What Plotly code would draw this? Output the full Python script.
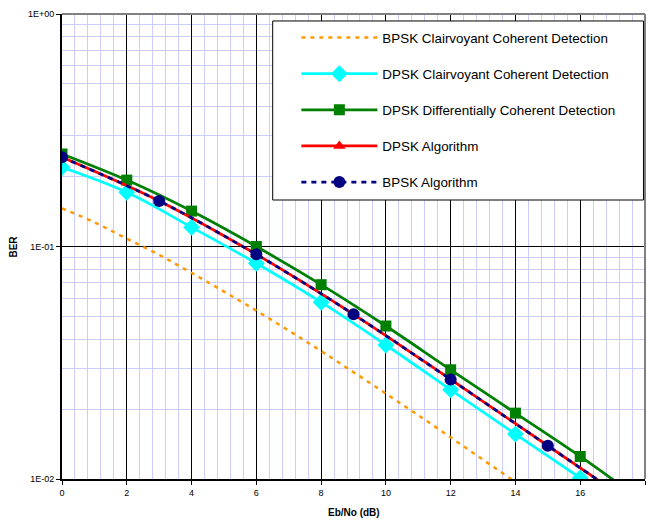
import plotly.graph_objects as go

# ---- data ----
snr_1db = [0, 1, 2, 3, 4, 5, 6, 7, 8, 9, 10, 11, 12, 13, 14, 15, 16, 17, 18]
bpsk_clair = [0.146, 0.127, 0.108, 0.092, 0.077, 0.064, 0.053, 0.0435, 0.0355, 0.0288,
              0.0233, 0.0188, 0.0151, 0.0121, 0.0097, 0.0077, 0.0062, 0.0049, 0.0039]

snr_2db = [0, 2, 4, 6, 8, 10, 12, 14, 16, 18]
dpsk_clair = [0.219, 0.171, 0.121, 0.0847, 0.0576, 0.0377, 0.0242, 0.0156, 0.0101, 0.0065]
dpsk_diff = [0.25, 0.193, 0.142, 0.1, 0.0685, 0.0455, 0.0295, 0.0192, 0.0125, 0.0079]

snr_3db = [0, 3, 6, 9, 12, 15, 18]
dpsk_alg = [0.242, 0.157, 0.0925, 0.0511, 0.0268, 0.0139, 0.0072]
bpsk_alg = [0.242, 0.157, 0.0925, 0.0511, 0.0268, 0.0139, 0.0072]

names = ["BPSK Clairvoyant Coherent Detection",
         "DPSK Clairvoyant Coherent Detection",
         "DPSK Differentially Coherent Detection",
         "DPSK Algorithm",
         "BPSK Algorithm"]

y_tickvals = [0.01, 0.1, 1]
y_ticktext = ["1E-02", "1E-01", "1E+00"]

FONT = "Arial, Liberation Sans, sans-serif"

fig = go.Figure()
fig.add_trace(go.Scatter(x=snr_1db, y=bpsk_clair, name=names[0], mode="lines",
                         legendgroup="g0",
                         line=dict(color="#FF9900", width=2.5, dash="4px,5px", shape="spline")))
fig.add_trace(go.Scatter(x=snr_2db, y=dpsk_clair, name=names[1], mode="lines+markers",
                         legendgroup="g1",
                         line=dict(color="#00FFFF", width=2.75, shape="spline"),
                         marker=dict(symbol="diamond", size=13, color="#00FFFF")))
fig.add_trace(go.Scatter(x=snr_2db, y=dpsk_diff, name=names[2], mode="lines+markers",
                         legendgroup="g2",
                         line=dict(color="#008000", width=2.75, shape="spline"),
                         marker=dict(symbol="square", size=11, color="#008000")))
fig.add_trace(go.Scatter(x=snr_3db, y=dpsk_alg, name=names[3], mode="lines+markers",
                         legendgroup="g3",
                         line=dict(color="#FF0000", width=2.75, shape="spline"),
                         marker=dict(symbol="triangle-up", size=11, color="#FF0000")))
fig.add_trace(go.Scatter(x=snr_3db, y=bpsk_alg, name=names[4], mode="lines+markers",
                         legendgroup="g4",
                         line=dict(color="#000080", width=2.75, dash="5px,5px", shape="spline"),
                         marker=dict(symbol="circle", size=12, color="#000080")))

fig.update_layout(
    width=650, height=522,
    margin=dict(l=62, r=5, t=14, b=43),
    paper_bgcolor="white", plot_bgcolor="white",
    font=dict(family=FONT, size=10, color="black"),
    showlegend=True,
    legend=dict(x=0.402, y=0.982, xanchor="left", yanchor="top",
                bgcolor="rgba(0,0,0,0)", borderwidth=0,
                font=dict(family=FONT, size=13.4, color="black"),
                itemwidth=76, tracegroupgap=15.7, traceorder="grouped"),
    xaxis=dict(range=[0, 18], tick0=0, dtick=2, showgrid=True, gridcolor="black", gridwidth=1,
               zeroline=False, showline=True, linecolor="black", linewidth=2,
               ticks="outside", ticklen=4, tickcolor="black", tickwidth=1,
               tickfont=dict(family=FONT, size=9),
               minor=dict(dtick=0.4, showgrid=True, gridcolor="#CCCCFF", gridwidth=1)),
    yaxis=dict(type="log", range=[-2, 0], tickmode="array", tickvals=y_tickvals, ticktext=y_ticktext,
               showgrid=True, gridcolor="black", gridwidth=1,
               zeroline=False, showline=True, linecolor="black", linewidth=2,
               ticks="outside", ticklen=4, tickcolor="black", tickwidth=1,
               tickfont=dict(family=FONT, size=9),
               minor=dict(dtick="D1", showgrid=True, gridcolor="#CCCCFF", gridwidth=1)),
    shapes=[
        dict(type="line", xref="paper", yref="paper", x0=0, x1=1, y0=1, y1=1,
             line=dict(color="#808080", width=2), layer="above"),
        dict(type="line", xref="paper", yref="paper", x0=1, x1=1, y0=0, y1=1,
             line=dict(color="#808080", width=2), layer="above"),
        dict(type="rect", xref="paper", yref="paper", x0=0.3614, x1=0.9974, y0=0.6, y1=0.985,
             fillcolor="white", line=dict(color="black", width=1), layer="above"),
    ],
    annotations=[
        dict(text="<b>BER</b>", xref="paper", yref="paper", x=-0.084, y=0.5, showarrow=False,
             textangle=-90, font=dict(family=FONT, size=10), xanchor="center", yanchor="middle"),
        dict(text="<b>Eb/No (dB)</b>", xref="paper", yref="paper", x=0.5, y=-0.071, showarrow=False,
             font=dict(family=FONT, size=10), xanchor="center", yanchor="middle"),
    ],
)

fig.write_html("out.html")
